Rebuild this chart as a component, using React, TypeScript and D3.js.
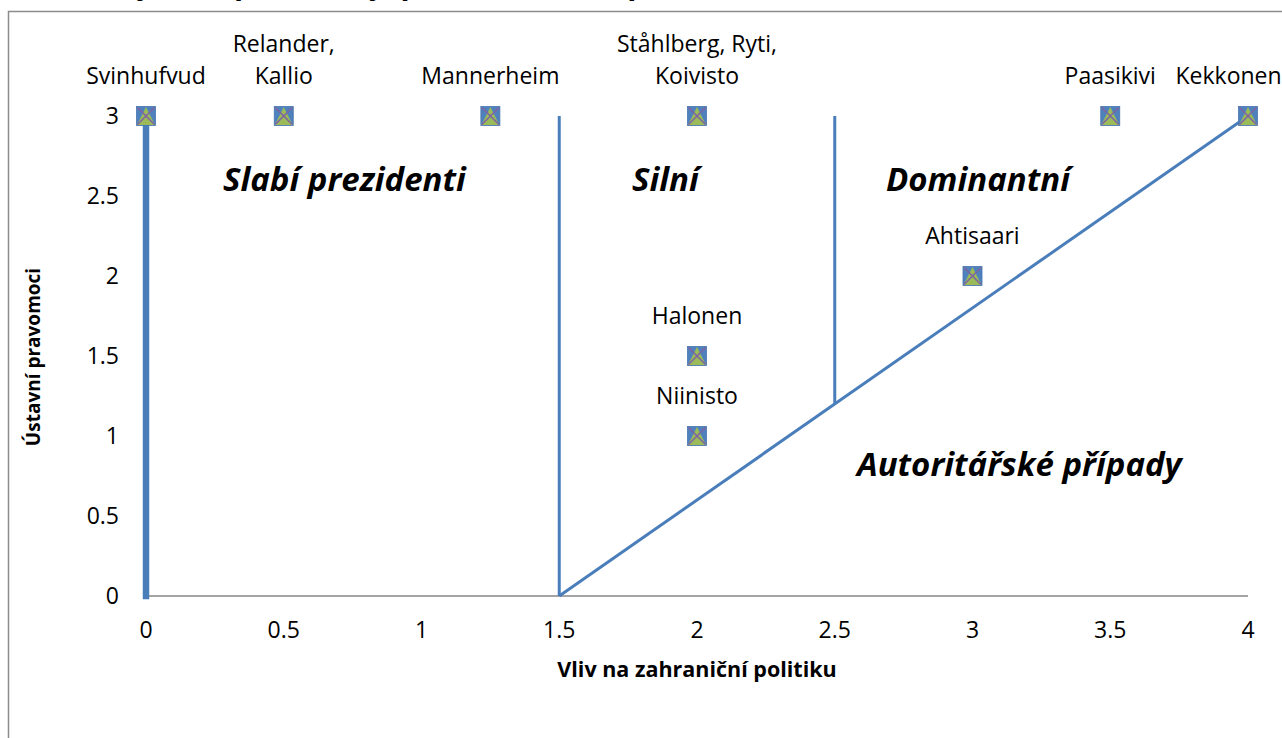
import React from "react";
import * as d3 from "d3";

const xTicks = [0, 0.5, 1, 1.5, 2, 2.5, 3, 3.5, 4];
const yTicks = [0, 0.5, 1, 1.5, 2, 2.5, 3];

const presidentLabels = [
  ["Svinhufvud"],
  ["Relander,", "Kallio"],
  ["Mannerheim"],
  ["Ståhlberg, Ryti,", "Koivisto"],
  ["Paasikivi"],
  ["Kekkonen"],
  ["Ahtisaari"],
  ["Halonen"],
  ["Niinisto"],
];
const presidentX = [0, 0.5, 1.25, 2, 3.5, 4, 3, 2, 2];
const presidentY = [3, 3, 3, 3, 3, 3, 2, 1.5, 1];

// boundary lines
const weakLineX = [0, 0];
const weakLineY = [0, 3];
const strongLineX = [1.5, 1.5];
const strongLineY = [0, 3];
const diagLineX = [1.5, 4];
const diagLineY = [0, 3];
const domLineX = [2.5, 2.5];
const domLineY = [3, 1.2];

const regionNames = ["Slabí prezidenti", "Silní", "Dominantní", "Autoritářské případy"];
const regionX = [0.72, 1.885, 3.02, 3.17];
const regionY = [2.6, 2.6, 2.6, 0.82];

const titleText = "Vztahy mezi prezidenty, pravomocemi a politikou";
const xTitle = "Vliv na zahraniční politiku";
const yTitle = "Ústavní pravomoci";

const FONT = "'Open Sans', sans-serif";

export default function App() {
  const W = 1282, H = 738;
  const x = d3.scaleLinear().domain([0, 4]).range([146, 1248]);
  const y = d3.scaleLinear().domain([0, 3]).range([596, 116]);
  const line = d3.line<[number, number]>().x((d) => x(d[0])).y((d) => y(d[1]));
  const mk = (xs: number[], ys: number[]) => xs.map((v, i) => [v, ys[i]] as [number, number]);
  const blue = "#4A7EBB";

  return (
    <svg width={W} height={H} style={{ position: "absolute", left: 0, top: 0, display: "block", background: "#fff" }}>
      <rect x={8.5} y={11.5} width={1400} height={900} fill="#fff" stroke="#8c8c8c" strokeWidth={1.5} />
      <text x={60} y={-6} fontFamily={FONT} fontWeight="bold" fontStyle="italic" fontSize={30} fill="#000">
        {titleText}
      </text>

      {/* axis line */}
      <line x1={x(0)} x2={x(4)} y1={y(0)} y2={y(0)} stroke="#868686" strokeWidth={1.5} />

      {/* ticks */}
      {xTicks.map((t) => (
        <text key={"x" + t} x={x(t)} y={638} textAnchor="middle" fontFamily={FONT} fontSize={23} fill="#000">
          {String(t)}
        </text>
      ))}
      {yTicks.map((t) => (
        <text key={"y" + t} x={119} y={y(t) + 8} textAnchor="end" fontFamily={FONT} fontSize={23} fill="#000">
          {String(t)}
        </text>
      ))}

      {/* axis titles */}
      <text x={697} y={677} textAnchor="middle" fontFamily={FONT} fontWeight="bold" fontSize={21.5} fill="#000">
        {xTitle}
      </text>
      <text
        transform={`translate(40, 357) rotate(-90)`}
        textAnchor="middle"
        fontFamily={FONT}
        fontWeight="bold"
        fontSize={19}
        fill="#000"
      >
        {yTitle}
      </text>

      {/* boundary lines */}
      <path d={line(mk(weakLineX, weakLineY)) || ""} stroke={blue} strokeWidth={6.5} fill="none" strokeLinecap="square" />
      <path d={line(mk(strongLineX, strongLineY)) || ""} stroke={blue} strokeWidth={3} fill="none" />
      <path d={line(mk(diagLineX, diagLineY)) || ""} stroke={blue} strokeWidth={3} fill="none" />
      <path d={line(mk(domLineX, domLineY)) || ""} stroke={blue} strokeWidth={3} fill="none" />

      {/* markers */}
      {presidentX.map((px, i) => {
        const cx = x(px), cy = y(presidentY[i]);
        return (
          <g key={"m" + i} transform={`translate(${cx},${cy})`}>
            <rect x={-9.5} y={-9.5} width={19} height={19} fill="#4F81BD" stroke="#4774AD" strokeWidth={0.8} />
            <path d="M0,-9 L9,9 L-9,9 Z" fill="#9BBB59" />
            <path d="M-8.5,-8.5 L8.5,8.5 M8.5,-8.5 L-8.5,8.5" stroke="#8064A2" strokeWidth={1.6} />
          </g>
        );
      })}

      {/* labels */}
      {presidentLabels.map((lines, i) => {
        const cx = x(presidentX[i]);
        const cy = y(presidentY[i]);
        const n = lines.length;
        const approxW = Math.max(...lines.map((l) => l.length)) * 12.6;
        const center = Math.min(cx, 1279 - approxW / 2);
        return (
          <text key={"l" + i} textAnchor="middle" fontFamily={FONT} fontSize={23} fill="#000">
            {lines.map((l, j) => (
              <tspan key={j} x={center} y={cy - 32 - (n - 1 - j) * 32}>
                {l}
              </tspan>
            ))}
          </text>
        );
      })}

      {/* region labels */}
      {regionNames.map((r, i) => (
        <text
          key={"r" + i}
          x={x(regionX[i])}
          y={y(regionY[i]) + 11}
          textAnchor="middle"
          fontFamily={FONT}
          fontWeight="bold"
          fontStyle="italic"
          fontSize={33}
          fill="#000"
        >
          {r}
        </text>
      ))}
    </svg>
  );
}
